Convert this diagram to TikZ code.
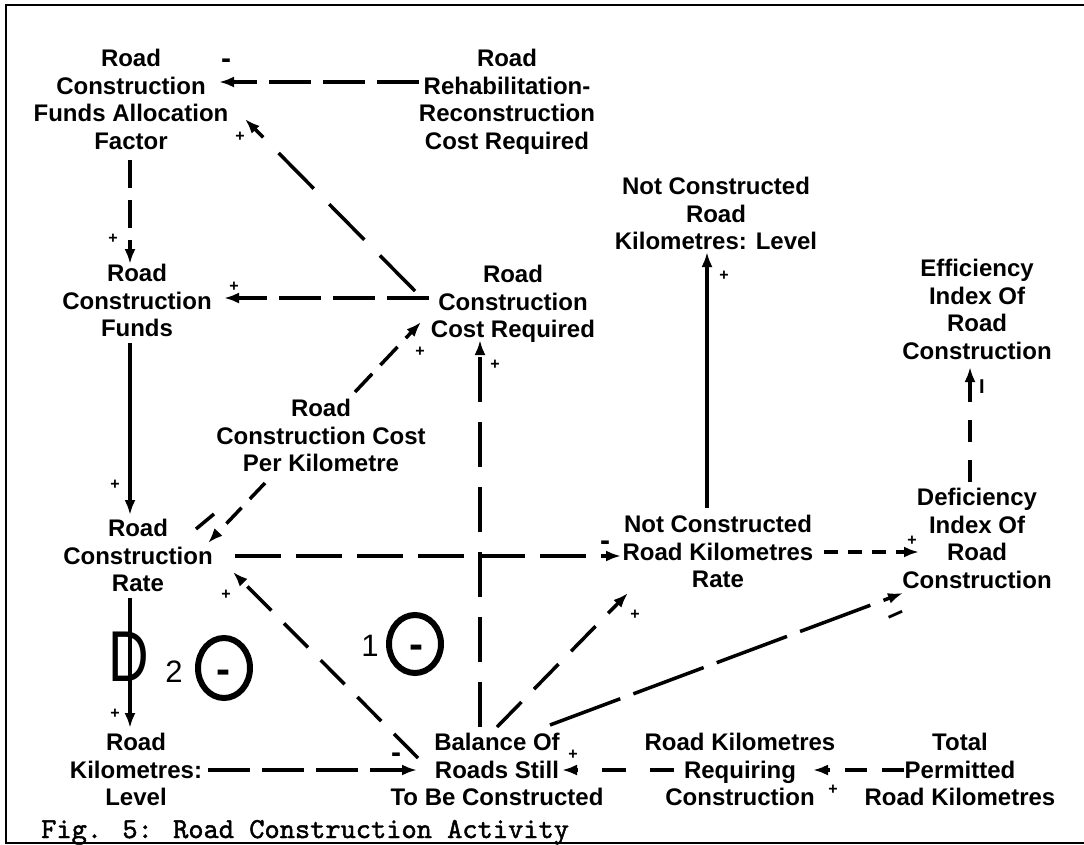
\documentclass[tikz,border=0pt]{standalone}
\usepackage{fontspec}
\setmainfont{Liberation Sans}
\newfontfamily\capfont{lmmono10-regular}[Extension=.otf, FakeBold=1.6]
\usetikzlibrary{arrows.meta,calc}
\begin{document}
\begin{tikzpicture}[x=1pt,y=-1pt,
  lbl/.style={font=\fontsize{24}{27.5}\selectfont\bfseries, align=center, inner sep=0pt, anchor=north},
  conn/.style={line width=3.5pt, -{Latex[length=15pt,width=11pt]}},
  solidc/.style={conn},
  dsh/.style 2 args={conn, dash pattern=on #1 off #2},
  sgn/.style={font=\fontsize{16}{16}\selectfont\bfseries, inner sep=0pt},
  msgn/.style={font=\fontsize{30}{30}\selectfont\bfseries, inner sep=0pt, anchor=base},
  big/.style={font=\fontsize{31}{31}\selectfont, inner sep=0pt},
  cmin/.style={font=\fontsize{42}{42}\selectfont\bfseries, inner sep=0pt, anchor=base},
  loopc/.style={line width=6pt},
]
\useasboundingbox (0,0) rectangle (1084,844);
% frame
\draw[line width=2pt] (1084,5) -- (6,5) -- (6,843) -- (1084,843);

% nodes (anchor north)
\node[lbl] (faf)   at (131,49)  {Road\\Construction\\Funds Allocation\\Factor};
\node[lbl] (rrc)   at (507,49)  {Road\\Rehabilitation-\\Reconstruction\\Cost Required};
\node[lbl] (nckl)  at (716,177) {Not Constructed\\Road\\Kilometres: Level};
\node[lbl] (rcf)   at (137,264) {Road\\Construction\\Funds};
\node[lbl] (rccr)  at (513,265) {Road\\Construction\\Cost Required};
\node[lbl] (eirc)  at (977,259) {Efficiency\\Index Of\\Road\\Construction};
\node[lbl] (rccpk) at (321,399) {Road\\Construction Cost\\Per Kilometre};
\node[lbl] (rcr)   at (138,519) {Road\\Construction\\Rate};
\node[lbl] (nckr)  at (718,515) {Not Constructed\\Road Kilometres\\Rate};
\node[lbl] (dirc)  at (977,488) {Deficiency\\Index Of\\Road\\Construction};
\node[lbl] (rkl)   at (136,733) {Road\\Kilometres:\\Level};
\node[lbl] (bal)   at (497,733) {Balance Of\\Roads Still\\To Be Constructed};
\node[lbl] (rkrc)  at (740,733) {Road Kilometres\\Requiring\\Construction};
\node[lbl] (tprk)  at (960,733) {Total\\Permitted\\Road Kilometres};

% connectors
\draw[dsh={42pt}{12pt}] ($(rrc.north)+(-88,33)$) -- ($(faf.north)+(88,33)$);
\draw[dsh={50pt}{22pt}] ($(rccr.north)+(-98,26)$) -- ($(faf.north)+(114,70)$);
\draw[dsh={28pt}{12pt}] ($(faf.north)+(-1,111)$) -- ($(rcf.north)+(-7,0)$);
\draw[dsh={42pt}{12pt}] ($(rccr.north)+(-84,33)$) -- ($(rcf.north)+(87,34)$);
\draw[solidc] ($(rcf.north)+(-7,79)$) -- ($(rcr.north)+(-8,-4)$);
\draw[dsh={25pt}{12pt}] ($(rccpk.north)+(34,-7)$) -- ($(rccr.north)+(-92,57)$);
\draw[dsh={22pt}{12pt}] ($(rccpk.north)+(-56,84)$) -- ($(rcr.north)+(70,24)$);
\draw[dsh={45pt}{20pt}] ($(bal.north)+(-17,-6)$) -- ($(rccr.north)+(-33,75)$);
\draw[dsh={46pt}{15pt}] ($(rcr.north)+(97,37)$) -- ($(nckr.north)+(-97,41)$);
\draw[solidc] ($(nckr.north)+(-11,-7)$) -- ($(nckl.north)+(-9,75)$);
\draw[dsh={14pt}{10pt}] ($(nckr.north)+(106,37)$) -- ($(dirc.north)+(-58,64)$);
\draw[dsh={22pt}{18pt}] ($(dirc.north)+(-7,-6)$) -- ($(eirc.north)+(-7,108)$);
\draw[dsh={34pt}{18pt}] ($(bal.north)+(-79,25)$) -- ($(rcr.north)+(95,53)$);
\draw[dsh={42pt}{12pt}] ($(rkl.north)+(72,37)$) -- ($(bal.north)+(-80,37)$);
\draw[solidc] ($(rcr.north)+(-8,79)$) -- ($(rkl.north)+(-6,-5)$);
\draw[dsh={35pt}{18pt}] ($(bal.north)+(0,-6)$) -- ($(nckr.north)+(-90,78)$);
\draw[dsh={75pt}{14pt}] ($(bal.north)+(53,-8)$) -- ($(dirc.north)+(-74,105)$);
\draw[dsh={24pt}{24pt}] ($(rkrc.north)+(-66,37)$) -- ($(bal.north)+(65,37)$);
\draw[dsh={22pt}{15pt}] ($(tprk.north)+(-56,37)$) -- ($(rkrc.north)+(73,37)$);
% stray stroke beside the cost-per-kilometre arrow
\draw[line width=3.5pt] ($(rcr.north)+(58,10)$) -- ($(rcr.north)+(76,-5)$);

% polarity signs
\node[msgn] (s1)  at (226,68)  {-};
\node[sgn]  (s2)  at (240,137) {+};
\node[sgn]  (s3)  at (113,239) {+};
\node[sgn]  (s4)  at (234,287) {+};
\node[sgn]  (s5)  at (115,485) {+};
\node[sgn]  (s6)  at (420,352) {+};
\node[sgn]  (s8)  at (495,365) {+};
\node[msgn] (s9)  at (605,550) {-};
\node[sgn]  (s10) at (724,276) {+};
\node[sgn]  (s11) at (912,541) {+};
\node[font=\fontsize{20}{20}\selectfont\bfseries, inner sep=0pt] (s12) at (982,387) {I};
\node[sgn]  (s13) at (226,595) {+};
\node[msgn] (s14) at (396,762) {-};
\node[sgn]  (s15) at (115,714) {+};
\node[sgn]  (s16) at (635,615) {+};
\node[font=\fontsize{30}{30}\selectfont\bfseries, inner sep=0pt, rotate=24] (s17) at (897,618) {–};
\node[sgn]  (s18) at (573,755) {+};
\node[sgn]  (s19) at (833,790) {+};

% loop markers
\node[font=\fontsize{72}{72}\selectfont, inner sep=0pt, xscale=0.78, transform shape] (dmark) at (129,657) {D};
\node[big] (two) at (174,672) {2};
\draw[loopc] (224,668) ellipse [x radius=26, y radius=30];
\node[cmin] (m2) at (223,683) {-};
\node[big] (one) at (370,646) {1};
\draw[loopc] (415,644) ellipse [x radius=26, y radius=29];
\node[cmin] (m1) at (416,658) {-};

% caption
\node[font=\capfont\fontsize{29}{30}\selectfont, anchor=base west, inner sep=0pt] (cap) at (41,838) {Fig. 5: Road Construction Activity};
\end{tikzpicture}
\end{document}
